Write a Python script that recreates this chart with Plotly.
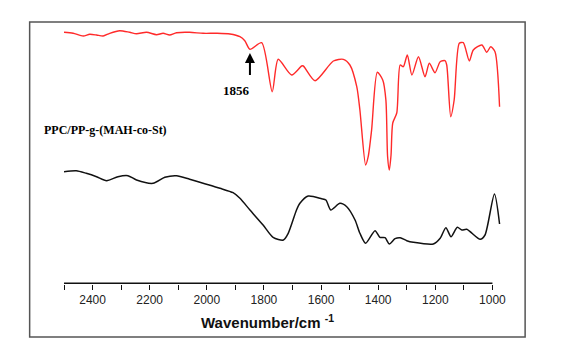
import plotly.graph_objects as go

# Red spectrum (top)
red_wn = [2500, 2468, 2433, 2410, 2386, 2363, 2340, 2305, 2270, 2246, 2211, 2176, 2153, 2130,
          2106, 2060, 2013, 1966, 1919, 1884, 1867, 1849, 1808, 1771, 1750, 1703, 1668, 1662,
          1621, 1557, 1522, 1499, 1475, 1464, 1444, 1435, 1423, 1403, 1384, 1373, 1367, 1361,
          1355, 1349, 1335, 1323, 1312, 1298, 1282, 1259, 1236, 1221, 1201, 1183, 1166, 1160,
          1146, 1134, 1116, 1102, 1081, 1067, 1037, 1020, 1006, 991, 975]
red_val = [251.7, 250.7, 248.0, 249.7, 249.0, 248.0, 250.7, 253.3, 251.7, 250.3, 251.7, 249.3, 250.7, 249.0,
           251.3, 251.7, 250.7, 250.7, 250.0, 247.3, 243.3, 234.7, 241.3, 192.3, 224.7, 209.0, 218.0, 218.0,
           203.3, 223.0, 224.7, 219.0, 197.3, 174.0, 119.0, 127.3, 154.0, 211.7, 204.0, 184.0, 127.3, 114.0,
           129.0, 161.0, 171.0, 219.0, 217.3, 229.0, 209.0, 227.3, 207.3, 220.7, 211.3, 222.3, 223.3, 219.0,
           167.3, 184.0, 240.7, 241.3, 223.0, 234.0, 239.0, 231.7, 237.3, 232.3, 177.3]

# Black spectrum (bottom)
blk_wn = [2500, 2457, 2422, 2386, 2351, 2311, 2276, 2246, 2188, 2147, 2106, 2060, 2013, 1954,
          1908, 1884, 1849, 1803, 1768, 1732, 1715, 1686, 1674, 1645, 1598, 1583, 1566, 1534,
          1510, 1481, 1464, 1444, 1411, 1394, 1376, 1361, 1341, 1323, 1300, 1277, 1207, 1183,
          1163, 1145, 1123, 1107, 1090, 1043, 1026, 993, 975]
blk_val = [112.3, 113.3, 110.7, 107.3, 103.3, 107.3, 108.3, 104.0, 100.7, 106.7, 108.3, 104.7, 100.7, 95.7,
           91.3, 85.7, 74.0, 59.0, 46.7, 44.0, 50.7, 74.0, 80.7, 88.0, 85.3, 84.0, 74.0, 80.7,
           77.3, 64.0, 50.7, 40.7, 53.3, 46.7, 46.3, 40.0, 45.3, 46.3, 43.3, 41.7, 40.0, 45.7,
           56.3, 47.3, 56.7, 54.0, 54.7, 44.7, 49.0, 90.0, 60.0]

tick_vals = [2400, 2200, 2000, 1800, 1600, 1400, 1200, 1000]
tick_text = [str(v) for v in tick_vals]
minor_vals = [2500, 2300, 2100, 1900, 1700, 1500, 1300, 1100]

# baseline (x-axis line) ends
axis_wn = [2500, 1000]
axis_val = [0.8, 0.8]

X_MIN, X_MAX = 2500, 970

fig = go.Figure()
fig.add_trace(go.Scatter(x=axis_wn, y=axis_val, mode="lines",
                         line=dict(color="#111111", width=1.6),
                         showlegend=False, hoverinfo="skip"))
fig.add_trace(go.Scatter(x=red_wn, y=red_val, mode="lines",
                         line=dict(color="#ff2a2a", width=1.4, shape="spline", smoothing=0.7),
                         showlegend=False, hoverinfo="skip"))
fig.add_trace(go.Scatter(x=blk_wn, y=blk_val, mode="lines",
                         line=dict(color="#111111", width=1.5, shape="spline", smoothing=0.7),
                         showlegend=False, hoverinfo="skip"))

fig.update_xaxes(range=[X_MIN, X_MAX], showline=False, showgrid=False, zeroline=False,
                 tickvals=tick_vals, ticktext=tick_text, ticks="outside", ticklen=5,
                 tickwidth=1, tickcolor="#111",
                 minor=dict(ticks="outside", tickvals=minor_vals,
                            ticklen=5, tickwidth=1, tickcolor="#111"),
                 tickfont=dict(family="Liberation Sans, Arial", size=12, color="#222"))
fig.update_yaxes(range=[0, 262], visible=False)

# outer frame
fig.add_shape(type="rect", xref="paper", yref="paper", x0=-0.0786, x1=1.0552, y0=-0.2023, y1=1.0,
              line=dict(color="#555", width=1.5))

fig.add_annotation(xref="paper", yref="paper", x=0.4666, y=-0.145,
                   text="<b>Wavenumber/cm </b><sup><b>-1</b></sup>", showarrow=False,
                   font=dict(family="Liberation Sans, Arial", size=15, color="#111"),
                   xanchor="center", yanchor="middle")
fig.add_annotation(x=1849, y=231, ax=1849, ay=207, xref="x", yref="y", axref="x", ayref="y",
                   text=" ", showarrow=True, arrowhead=2, arrowsize=1, arrowwidth=2,
                   arrowcolor="#000", font=dict(size=1))
fig.add_annotation(x=1896, y=194, xref="x", yref="y", text="<b>1856</b>", showarrow=False,
                   font=dict(family="Liberation Serif, Times New Roman", size=13, color="#000"))
fig.add_annotation(xref="paper", yref="y", x=-0.0495, y=154, xanchor="left", yanchor="middle",
                   text="<b>PPC/PP-g-(MAH-co-St)</b>", showarrow=False,
                   font=dict(family="Liberation Serif, Times New Roman", size=12, color="#000"))

fig.update_layout(width=566, height=353, margin=dict(l=64, r=65, t=22, b=69),
                  paper_bgcolor="white", plot_bgcolor="white")
fig.write_html("out.html")
